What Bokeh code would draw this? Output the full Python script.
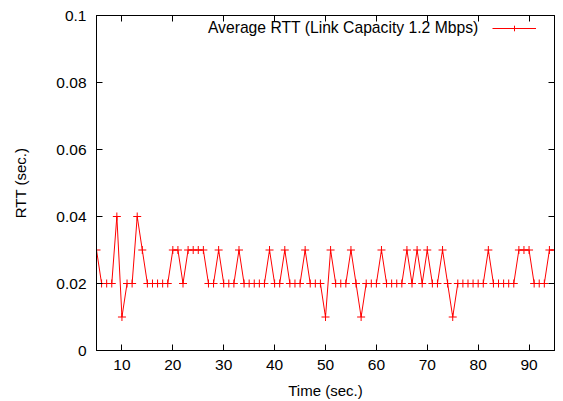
from bokeh.plotting import figure
from bokeh.models import (LinearAxis, FixedTicker, Legend, LegendItem, Label)
from bokeh.embed import file_html
from bokeh.resources import INLINE

# ---- data ----
time_s = list(range(5, 96))
rtt = [0.03, 0.02, 0.02, 0.02, 0.04, 0.01, 0.02, 0.02, 0.04, 0.03,   # 5-14
       0.02, 0.02, 0.02, 0.02, 0.02, 0.03, 0.03, 0.02, 0.03, 0.03,   # 15-24
       0.03, 0.03, 0.02, 0.02, 0.03, 0.02, 0.02, 0.02, 0.03, 0.02,   # 25-34
       0.02, 0.02, 0.02, 0.02, 0.03, 0.02, 0.02, 0.03, 0.02, 0.02,   # 35-44
       0.02, 0.03, 0.02, 0.02, 0.02, 0.01, 0.03, 0.02, 0.02, 0.02,   # 45-54
       0.03, 0.02, 0.01, 0.02, 0.02, 0.02, 0.03, 0.02, 0.02, 0.02,   # 55-64
       0.02, 0.03, 0.02, 0.03, 0.02, 0.03, 0.02, 0.02, 0.03, 0.02,   # 65-74
       0.01, 0.02, 0.02, 0.02, 0.02, 0.02, 0.02, 0.03, 0.02, 0.02,   # 75-84
       0.02, 0.02, 0.02, 0.03, 0.03, 0.03, 0.02, 0.02, 0.02, 0.03,   # 85-94
       0.03]                                                         # 95
x_ticks = [10, 20, 30, 40, 50, 60, 70, 80, 90]
y_ticks = [0, 0.02, 0.04, 0.06, 0.08, 0.1]
y_tick_labels = ["0", "0.02", "0.04", "0.06", "0.08", "0.1"]
series_name = "Average RTT (Link Capacity 1.2 Mbps)"
x_title = "Time (sec.)"
y_title = "RTT (sec.)"

FONT = "Liberation Sans"
FS = "15px"
TICK_FS = "15.5px"

p = figure(width=563, height=401, x_range=(5, 95), y_range=(0, 0.1),
           output_backend="svg", toolbar_location=None,
           min_border_left=96, min_border_right=9, min_border_top=15,
           min_border_bottom=50)
p.grid.visible = False
p.outline_line_color = "black"
p.outline_line_width = 1
p.background_fill_color = "white"
p.border_fill_color = "white"

def style(ax, ticks, labels=True):
    ax.ticker = FixedTicker(ticks=ticks)
    ax.major_tick_in = 6
    ax.major_tick_out = 0
    ax.minor_tick_in = 0
    ax.minor_tick_out = 0
    ax.axis_line_color = "black"
    ax.major_tick_line_color = "black"
    ax.major_label_text_font = FONT
    ax.major_label_text_color = "black"
    ax.major_label_text_font_size = TICK_FS
    ax.axis_label_text_font = FONT
    ax.axis_label_text_font_style = "normal"
    ax.axis_label_text_color = "black"
    ax.axis_label_text_font_size = FS
    if not labels:
        ax.major_label_overrides = {t: "" for t in ticks}
        ax.major_label_standoff = 0

xa = p.xaxis[0]
style(xa, x_ticks)
xa.axis_label = x_title
xa.major_label_standoff = 9
xa.axis_label_standoff = 9

ya = p.yaxis[0]
style(ya, y_ticks)
ya.axis_label = y_title
ya.major_label_overrides = {t: l for t, l in zip(y_ticks, y_tick_labels)}
ya.major_label_standoff = 10
ya.axis_label_standoff = 24

top = LinearAxis()
style(top, x_ticks, labels=False)
p.add_layout(top, "above")
right = LinearAxis()
style(right, y_ticks, labels=False)
p.add_layout(right, "right")

ln = p.line(time_s, rtt, line_color="red", line_width=1)
sc = p.scatter(time_s, rtt, marker="cross", size=8, line_color="red", line_width=1)

legend = Legend(items=[LegendItem(label=" ", renderers=[ln, sc])],
                location=(396, 315), padding=0, margin=0, spacing=0,
                label_standoff=0, label_width=0, label_height=14,
                glyph_width=44, glyph_height=14,
                border_line_color=None, background_fill_alpha=0,
                label_text_font=FONT, label_text_font_size=FS)
p.add_layout(legend)

p.add_layout(Label(x=382, y=323, x_units="screen", y_units="screen",
                   text=series_name, text_align="right", text_baseline="middle",
                   text_font=FONT, text_font_size="15.7px", text_color="black"))

open("out.html", "w").write(file_html(p, INLINE))
